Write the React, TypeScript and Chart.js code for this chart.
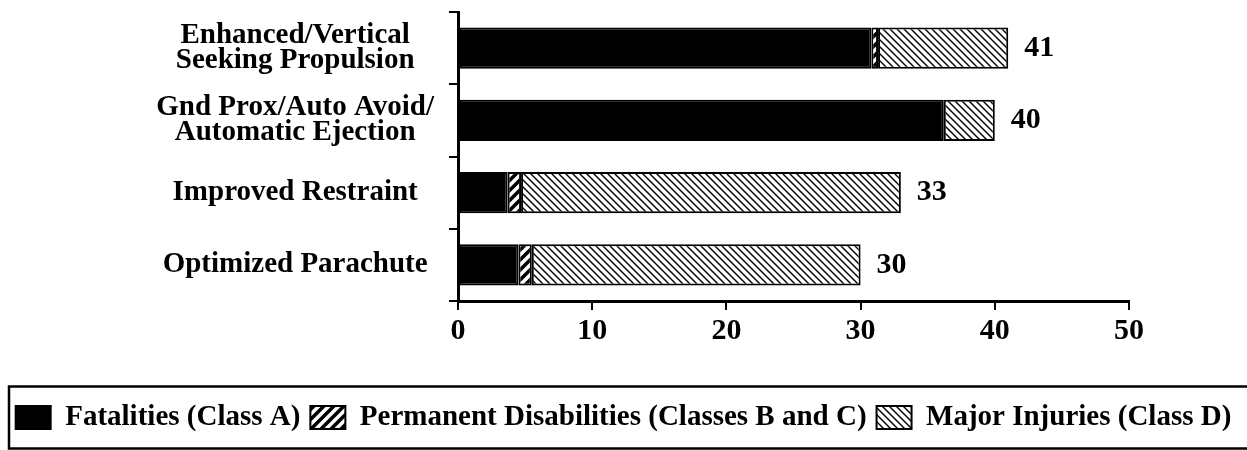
import React, { useEffect, useRef } from "react";
import { Chart, registerables } from "chart.js";

Chart.register(...registerables);

const categories: (string | string[])[] = [
  ["Enhanced/Vertical", "Seeking Propulsion"],
  ["Gnd Prox/Auto Avoid/", "Automatic Ejection"],
  "Improved Restraint",
  "Optimized Parachute",
];
const fatalities = [30.8, 36.2, 3.7, 4.5];
const permanentDisabilities = [0.5, 0, 1.0, 1.0];
const majorInjuries = [9.7, 3.8, 28.3, 24.5];
const seriesNames = [
  "Fatalities (Class A)",
  "Permanent Disabilities (Classes B and C)",
  "Major Injuries (Class D)",
];
const xTicks = [0, 10, 20, 30, 40, 50];

const FONT = "'Liberation Serif', 'Times New Roman', serif";

function makePattern(size: number, lineWidth: number, dir: "back" | "fwd"): CanvasPattern | string {
  const c = document.createElement("canvas");
  c.width = size;
  c.height = size;
  const g = c.getContext("2d");
  if (!g) return "#fff";
  g.fillStyle = "#fff";
  g.fillRect(0, 0, size, size);
  g.strokeStyle = "#000";
  g.lineWidth = lineWidth;
  g.lineCap = "square";
  for (let k = -1; k <= 1; k++) {
    g.beginPath();
    if (dir === "back") {
      g.moveTo(-1, -1 + size * k);
      g.lineTo(size + 1, size + 1 + size * k);
    } else {
      g.moveTo(-1, size + 1 + size * k);
      g.lineTo(size + 1, -1 + size * k);
    }
    g.stroke();
  }
  return g.createPattern(c, "repeat") || "#fff";
}

const valueLabels = {
  id: "valueLabels",
  afterDatasetsDraw(chart: any) {
    const ctx = chart.ctx;
    const xs = chart.scales.x;
    const n = chart.data.labels.length;
    const lastMeta = chart.getDatasetMeta(chart.data.datasets.length - 1);
    ctx.save();
    ctx.font = `bold 30px ${FONT}`;
    ctx.fillStyle = "#000";
    ctx.textAlign = "left";
    ctx.textBaseline = "middle";
    for (let i = 0; i < n; i++) {
      let total = 0;
      chart.data.datasets.forEach((d: any) => (total += d.data[i]));
      const x = xs.getPixelForValue(total) + 16;
      const y = lastMeta.data[i].y;
      ctx.fillText(String(Math.round(total)), x, y);
    }
    ctx.restore();
  },
};

const legendBorder = {
  id: "legendBorder",
  afterDraw(chart: any) {
    const lg = chart.legend;
    if (!lg || !lg.legendHitBoxes || !lg.legendHitBoxes.length) return;
    const hb = lg.legendHitBoxes[0];
    const cy = hb.top + hb.height / 2;
    const ctx = chart.ctx;
    ctx.save();
    ctx.strokeStyle = "#000";
    ctx.lineWidth = 2.5;
    ctx.strokeRect(9, cy - 31, chart.width + 20, 62);
    ctx.restore();
  },
};

export default function App() {
  const ref = useRef<HTMLCanvasElement | null>(null);
  useEffect(() => {
    document.body.style.margin = "0";
    if (!ref.current) return;
    const major = makePattern(7, 1.4, "back");
    const perm = makePattern(10, 3.5, "fwd");
    const chart = new Chart(ref.current, {
      type: "bar",
      data: {
        labels: categories,
        datasets: [
          {
            label: seriesNames[0],
            data: fatalities,
            backgroundColor: "#000",
            borderColor: "#000",
            borderWidth: 2,
            borderSkipped: false,
            yAxisID: "y",
          },
          {
            label: seriesNames[1],
            data: permanentDisabilities,
            backgroundColor: perm as any,
            borderColor: "#000",
            borderWidth: 2,
            borderSkipped: false,
            yAxisID: "y",
          },
          {
            label: seriesNames[2],
            data: majorInjuries,
            backgroundColor: major as any,
            borderColor: "#000",
            borderWidth: 2,
            borderSkipped: false,
            yAxisID: "y",
          },
        ],
      },
      options: {
        indexAxis: "y",
        animation: false,
        responsive: false,
        events: [],
        layout: { padding: { top: 12, bottom: 8, left: 0, right: 0 } },
        datasets: { bar: { barPercentage: 0.57, categoryPercentage: 1 } },
        scales: {
          y: {
            type: "category",
            position: "left",
            stacked: true,
            afterFit: (s: any) => {
              s.width = 458;
              s.paddingTop = 0;
              s.paddingBottom = 0;
            },
            grid: {
              display: true,
              offset: true,
              drawOnChartArea: false,
              drawTicks: true,
              tickLength: 9,
              color: "#000",
              lineWidth: 2,
            },
            border: { display: true, color: "#000", width: 3 },
            ticks: {
              color: "#000",
              crossAlign: "center",
              padding: 15,
              font: { family: FONT, size: 29, weight: "bold", lineHeight: 0.86 },
            },
          },
          yRight: {
            type: "category",
            position: "right",
            display: true,
            afterFit: (s: any) => {
              s.width = 118;
              s.paddingTop = 0;
              s.paddingBottom = 0;
            },
            grid: { display: false },
            border: { display: false },
            ticks: { display: false },
          },
          x: {
            type: "linear",
            stacked: true,
            min: xTicks[0],
            max: xTicks[xTicks.length - 1],
            afterFit: (s: any) => {
              s.height = 92;
              s.paddingLeft = 0;
              s.paddingRight = 0;
            },
            grid: {
              display: true,
              drawOnChartArea: false,
              drawTicks: true,
              tickLength: 9,
              color: "#000",
              lineWidth: 2,
            },
            border: { display: true, color: "#000", width: 3 },
            ticks: {
              stepSize: xTicks[1] - xTicks[0],
              color: "#000",
              padding: 3,
              font: { family: FONT, size: 30, weight: "bold", lineHeight: 1.2 },
            },
          },
        },
        plugins: {
          tooltip: { enabled: false },
          legend: {
            display: true,
            position: "bottom",
            labels: {
              color: "#000",
              boxWidth: 35,
              boxHeight: 23,
              padding: 10,
              font: { family: FONT, size: 29, weight: "bold" },
            },
          },
        },
      },
      plugins: [valueLabels, legendBorder],
    } as any);
    return () => chart.destroy();
  }, []);
  return (
    <div style={{ width: 1247, height: 450 }}>
      <canvas ref={ref} width={1247} height={450} style={{ display: "block" }} />
    </div>
  );
}
